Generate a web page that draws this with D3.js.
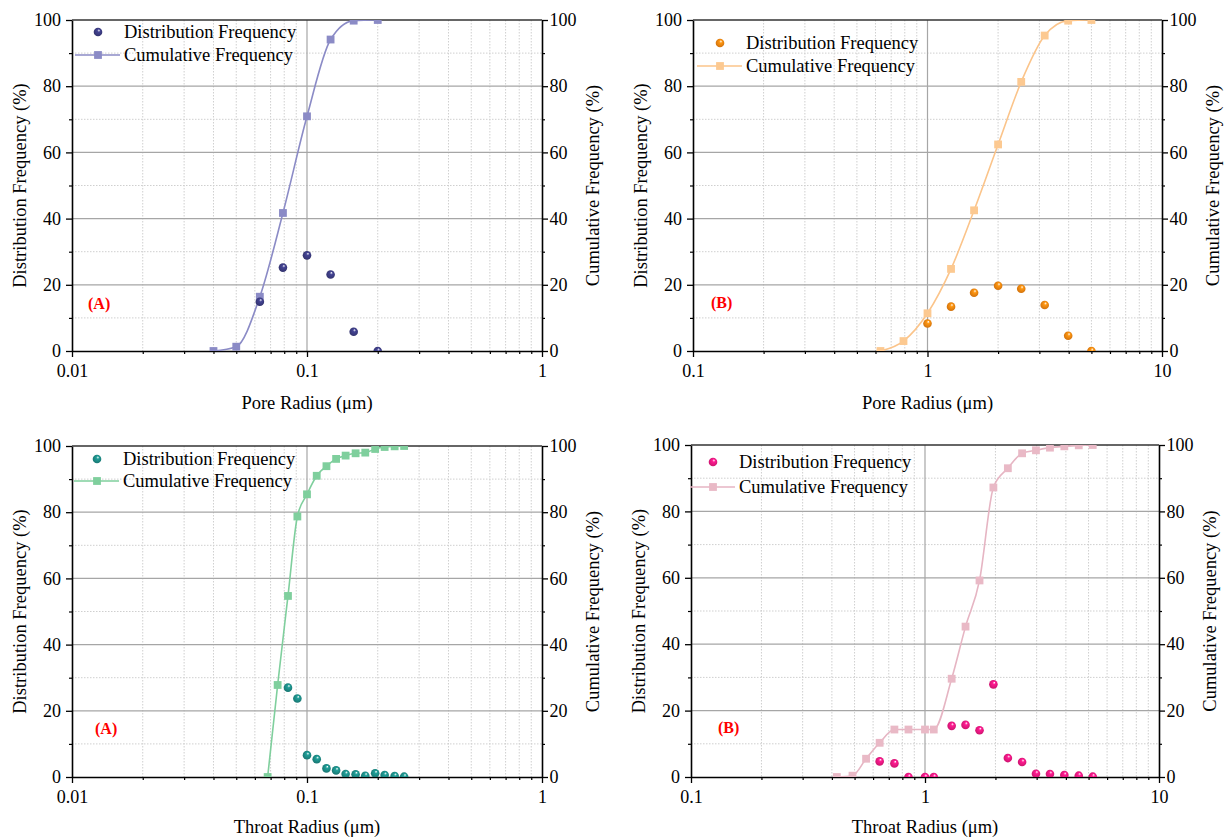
<!DOCTYPE html>
<html>
<head>
<meta charset="utf-8">
<script src="https://cdn.jsdelivr.net/npm/d3@7"></script>
<style>
  body { margin: 0; background: #fff; }
  svg text { font-family: 'Liberation Serif', 'Times New Roman', Times, serif; }
</style>
</head>
<body>
<svg id="chart" width="1226" height="838"></svg>
<script>
// ---- data ----
// (A) pore radius, um
var poreA_x    = [0.04, 0.05, 0.063, 0.079, 0.1, 0.126, 0.158, 0.2];
var poreA_cum  = [0, 1.3, 16.4, 41.7, 70.9, 94.1, 99.8, 100];
var poreA_dist = [null, null, 14.9, 25.2, 28.9, 23.1, 5.8, 0];

// (B) pore radius, um
var poreB_x    = [0.63, 0.79, 1.0, 1.26, 1.58, 2.0, 2.51, 3.16, 3.98, 5.0];
var poreB_cum  = [0, 3.0, 11.4, 24.8, 42.5, 62.4, 81.3, 95.3, 99.8, 100];
var poreB_dist = [null, null, 8.3, 13.4, 17.6, 19.7, 18.8, 13.9, 4.6, 0];

// (A) throat radius, um
var throatA_x    = [0.068, 0.075, 0.083, 0.091, 0.1, 0.11, 0.121, 0.133, 0.146, 0.161, 0.177, 0.195, 0.214, 0.236, 0.259];
var throatA_cum  = [0, 27.8, 54.7, 78.7, 85.4, 91.0, 93.9, 96.1, 97.1, 97.8, 98.0, 99.1, 99.7, 99.9, 100];
var throatA_dist = [null, null, 27.0, 23.7, 6.6, 5.4, 2.6, 2.0, 0.9, 0.8, 0.4, 1.1, 0.6, 0.3, 0.1];

// (B) throat radius, um
var throatB_x    = [0.42, 0.49, 0.56, 0.64, 0.74, 0.85, 1.0, 1.09, 1.3, 1.49, 1.71, 1.96, 2.26, 2.6, 2.98, 3.42, 3.94, 4.54, 5.21];
var throatB_cum  = [0, 0.4, 5.5, 10.3, 14.3, 14.3, 14.3, 14.3, 29.6, 45.3, 59.2, 87.2, 93.0, 97.5, 98.4, 99.2, 99.6, 99.9, 100];
var throatB_dist = [null, null, null, 4.7, 4.1, 0, 0, 0, 15.4, 15.7, 14.1, 27.9, 5.7, 4.5, 1.0, 0.9, 0.6, 0.4, 0.1];

var yMajor = [0, 20, 40, 60, 80, 100];
var yMinor = [10, 30, 50, 70, 90];
var legendNames = ["Distribution Frequency", "Cumulative Frequency"];

var FONT = "'Liberation Serif', 'Times New Roman', Times, serif";
var svg = d3.select('#chart').attr('font-family', FONT);
var defs = svg.append('defs');

// ball-like marker fill, like the origin symbol
function ballFill(id, color) {
	var c = d3.color(color);
	var g = defs.append('radialGradient')
		.attr('id', id)
		.attr('cx', '50%').attr('cy', '50%').attr('r', '60%')
		.attr('fx', '62%').attr('fy', '28%');
	g.append('stop').attr('offset', '0%').attr('stop-color', '#ffffff');
	g.append('stop').attr('offset', '28%').attr('stop-color', c.brighter(0.4));
	g.append('stop').attr('offset', '100%').attr('stop-color', c.darker(0.6));
	return 'url(#' + id + ')';
}

function drawPanel(p) {
	var x = d3.scaleLog().domain(p.domain).range([p.left, p.right]);
	var y = d3.scaleLinear().domain([0, 100]).range([p.bottom, p.top]);

	//刻度
	var decades = [];
	var minors = [];
	for (var d = p.domain[0]; d <= p.domain[1] * 1.0001; d *= 10) {
		decades.push(+d.toPrecision(3));
		if (d < p.domain[1] * 0.999) {
			for (var k = 2; k <= 9; k++) minors.push(+(k * d).toPrecision(3));
		}
	}

	var g = svg.append('g');

	// grid
	var grid = g.append('g');
	grid.selectAll('.vmin').data(minors).enter().append('line')
		.attr('class', 'vmin')
		.attr('x1', x).attr('x2', x).attr('y1', p.top).attr('y2', p.bottom)
		.attr('stroke', '#cfcfcf').attr('stroke-width', 1).attr('stroke-dasharray', '1.5,1.5');
	grid.selectAll('.hmin').data(yMinor).enter().append('line')
		.attr('class', 'hmin')
		.attr('x1', p.left).attr('x2', p.right).attr('y1', y).attr('y2', y)
		.attr('stroke', '#cfcfcf').attr('stroke-width', 1).attr('stroke-dasharray', '1.5,1.5');
	grid.selectAll('.vmaj').data(decades.slice(1, -1)).enter().append('line')
		.attr('class', 'vmaj')
		.attr('x1', x).attr('x2', x).attr('y1', p.top).attr('y2', p.bottom)
		.attr('stroke', '#a6a6a6').attr('stroke-width', 1.2);
	grid.selectAll('.hmaj').data([20, 40, 60, 80]).enter().append('line')
		.attr('class', 'hmaj')
		.attr('x1', p.left).attr('x2', p.right).attr('y1', y).attr('y2', y)
		.attr('stroke', '#a6a6a6').attr('stroke-width', 1.2);

	// axes
	function styleAxis(a) {
		a.attr('font-family', FONT).attr('font-size', null);
		a.selectAll('text').attr('font-size', 18).attr('fill', '#000');
		a.selectAll('line').attr('stroke', '#000').attr('stroke-width', 1.3);
		a.select('.domain').attr('stroke', '#000').attr('stroke-width', 1.6);
	}
	function minorAxis(a) {
		a.select('.domain').remove();
		a.selectAll('line').attr('stroke', '#000').attr('stroke-width', 1.2);
	}
	var lAx = g.append('g').attr('transform', 'translate(' + p.left + ',0)')
		.call(d3.axisLeft(y).tickValues(yMajor).tickSize(6).tickSizeOuter(0).tickPadding(5));
	styleAxis(lAx);
	g.append('g').attr('transform', 'translate(' + p.left + ',0)')
		.call(d3.axisLeft(y).tickValues(yMinor).tickSize(3).tickFormat('')).call(minorAxis);
	var rAx = g.append('g').attr('transform', 'translate(' + p.right + ',0)')
		.call(d3.axisRight(y).tickValues(yMajor).tickSize(6).tickSizeOuter(0).tickPadding(1.5));
	styleAxis(rAx);
	g.append('g').attr('transform', 'translate(' + p.right + ',0)')
		.call(d3.axisRight(y).tickValues(yMinor).tickSize(3).tickFormat('')).call(minorAxis);
	var bAx = g.append('g').attr('transform', 'translate(0,' + p.bottom + ')')
		.call(d3.axisBottom(x).tickValues(decades).tickFormat(d3.format('~g')).tickSize(6).tickSizeOuter(0).tickPadding(7));
	styleAxis(bAx);
	g.append('g').attr('transform', 'translate(0,' + p.bottom + ')')
		.call(d3.axisBottom(x).tickValues(minors).tickSize(3).tickFormat('')).call(minorAxis);
	g.append('line')
		.attr('x1', p.left).attr('x2', p.right).attr('y1', p.top).attr('y2', p.top)
		.attr('stroke', '#333').attr('stroke-width', 1.4);

	// titles
	g.append('text')
		.attr('x', (p.left + p.right) / 2).attr('y', p.bottom + p.xtY)
		.attr('text-anchor', 'middle').attr('font-size', 18.5)
		.text(p.xTitle);
	g.append('text')
		.attr('transform', 'translate(' + (p.left - 46) + ',' + ((p.top + p.bottom) / 2) + ') rotate(-90)')
		.attr('text-anchor', 'middle').attr('font-size', 18.5)
		.text('Distribution Frequency (%)');
	g.append('text')
		.attr('transform', 'translate(' + (p.right + 57) + ',' + ((p.top + p.bottom) / 2) + ') rotate(-90)')
		.attr('text-anchor', 'middle').attr('font-size', 18.5)
		.text('Cumulative Frequency (%)');

	// data
	defs.append('clipPath').attr('id', 'clip' + p.id)
		.append('rect').attr('x', p.left).attr('y', p.top)
		.attr('width', p.right - p.left).attr('height', p.bottom - p.top);
	var plot = g.append('g').attr('clip-path', 'url(#clip' + p.id + ')');

	var cumPts = p.xs.map(function(v, i) { return [v, p.cum[i]]; });
	var distPts = p.xs.map(function(v, i) { return [v, p.dist[i]]; })
		.filter(function(d) { return d[1] !== null; });

	var line = d3.line()
		.x(function(d) { return x(d[0]); })
		.y(function(d) { return y(d[1]); })
		.curve(d3.curveMonotoneX);

	plot.append('path').datum(cumPts)
		.attr('d', line).attr('fill', 'none')
		.attr('stroke', p.lineColor).attr('stroke-width', 1.6);
	var s = 7.8;
	plot.selectAll('.sq').data(cumPts).enter().append('rect')
		.attr('x', function(d) { return x(d[0]) - s / 2; })
		.attr('y', function(d) { return y(d[1]) - s / 2; })
		.attr('width', s).attr('height', s)
		.attr('fill', p.sqColor);
	var ball = ballFill('ball' + p.id, p.dotColor);
	plot.selectAll('.dot').data(distPts).enter().append('circle')
		.attr('cx', function(d) { return x(d[0]); })
		.attr('cy', function(d) { return y(d[1]); })
		.attr('r', 4.3)
		.attr('fill', ball);

	// legend
	var lx = p.left + p.leg[0], ly = p.top + p.leg[1], ly2 = ly + p.leg[2];
	g.append('circle').attr('cx', lx).attr('cy', ly).attr('r', 4.3).attr('fill', ball);
	g.append('line').attr('x1', lx - 23).attr('x2', lx + 22).attr('y1', ly2).attr('y2', ly2)
		.attr('stroke', p.lineColor).attr('stroke-width', 1.6);
	g.append('rect').attr('x', lx - s / 2).attr('y', ly2 - s / 2).attr('width', s).attr('height', s)
		.attr('fill', p.sqColor);
	g.append('text').attr('x', lx + 26).attr('y', ly + 6).attr('font-size', 18.5).text(legendNames[0]);
	g.append('text').attr('x', lx + 26).attr('y', ly2 + 6).attr('font-size', 18.5).text(legendNames[1]);

	// tag
	g.append('text').attr('x', p.left + p.tag[0]).attr('y', p.top + p.tag[1])
		.attr('font-size', 16).attr('font-weight', 'bold').attr('fill', '#ff0000')
		.text(p.tagText);
}

drawPanel({
	id: 'a', left: 72, right: 542, top: 20, bottom: 351, domain: [0.01, 1],
	xs: poreA_x, cum: poreA_cum, dist: poreA_dist,
	dotColor: '#3b3b80', sqColor: '#8b8bc6', lineColor: '#8b8bc6',
	xTitle: 'Pore Radius (μm)', xtY: 58, tagText: '(A)', tag: [16, 289], leg: [26, 12, 23]
});
drawPanel({
	id: 'b', left: 693, right: 1162, top: 20, bottom: 351, domain: [0.1, 10],
	xs: poreB_x, cum: poreB_cum, dist: poreB_dist,
	dotColor: '#f7830f', sqColor: '#fcc991', lineColor: '#fbc48a',
	xTitle: 'Pore Radius (μm)', xtY: 58, tagText: '(B)', tag: [18, 288], leg: [27, 23, 23]
});
drawPanel({
	id: 'c', left: 72, right: 542, top: 446, bottom: 777, domain: [0.01, 1],
	xs: throatA_x, cum: throatA_cum, dist: throatA_dist,
	dotColor: '#1c8a84', sqColor: '#7fcf9d', lineColor: '#7fcf9d',
	xTitle: 'Throat Radius (μm)', xtY: 56, tagText: '(A)', tag: [23, 288], leg: [25, 13, 22]
});
drawPanel({
	id: 'd', left: 691, right: 1159, top: 445, bottom: 777, domain: [0.1, 10],
	xs: throatB_x, cum: throatB_cum, dist: throatB_dist,
	dotColor: '#f0177f', sqColor: '#e9b9c6', lineColor: '#e6b5c3',
	xTitle: 'Throat Radius (μm)', xtY: 56, tagText: '(B)', tag: [27, 288], leg: [22, 17, 25]
});
</script>
</body>
</html>
